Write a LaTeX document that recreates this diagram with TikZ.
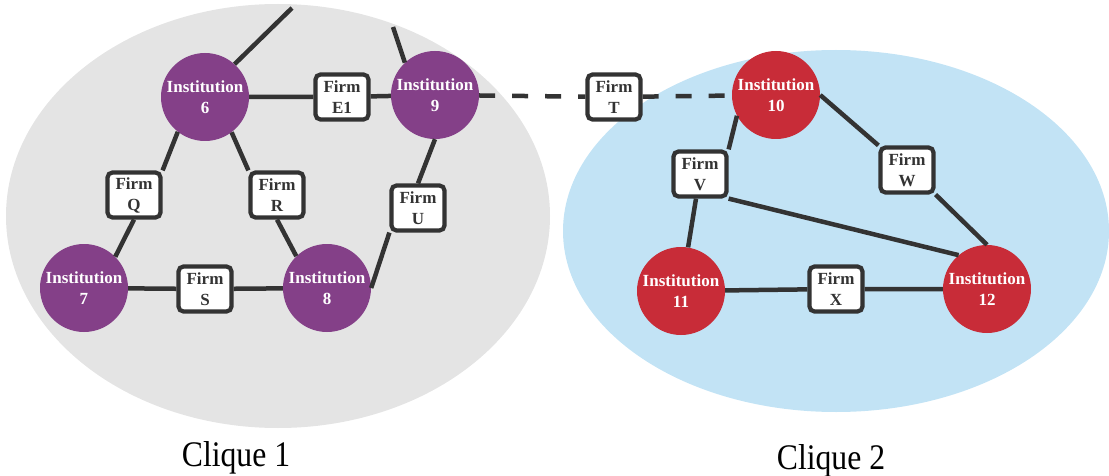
\documentclass[tikz,border=0pt]{standalone}
\usepackage{fontspec}
\setmainfont{Liberation Serif}
\usepackage{graphicx}
\usetikzlibrary{positioning}
\definecolor{instpurple}{HTML}{844088}
\definecolor{instred}{HTML}{C82C38}
\definecolor{cliquegray}{HTML}{E4E4E4}
\definecolor{cliqueblue}{HTML}{C2E3F5}
\definecolor{linkgray}{HTML}{333333}

\begin{document}
\begin{tikzpicture}[x=1pt, y=-1pt,
  inst/.style={circle, minimum size=88pt, inner sep=0pt, text=white, align=center, font=\fontsize{17}{21}\selectfont\bfseries},
  firm/.style={draw=linkgray, line width=4.2pt, fill=white, rounded corners=5pt, minimum width=53pt, minimum height=45pt, inner sep=0pt, align=center, text=linkgray, font=\fontsize{17}{21}\selectfont\bfseries},
  link/.style={draw=linkgray, line width=4.5pt},
  clique/.style={font=\fontsize{36}{36}\selectfont}]
\useasboundingbox (0,0) rectangle (1109,476);

% Define the cliques
\fill[cliquegray] (278,216) ellipse [x radius=272, y radius=212];
\fill[cliqueblue] (836,231) ellipse [x radius=273, y radius=181];
\node[clique] (cl1) at (236,458) {\scalebox{0.88}[1]{Clique 1}};
\node[clique] (cl2) at (831,461) {\scalebox{0.88}[1]{Clique 2}};

% Define the institutions
\node[inst, fill=instpurple] (i6) at (205,97) {Institution\\6};
\node[inst, fill=instpurple] (i9) at (435,95) {Institution\\9};
\node[inst, fill=instpurple] (i7) at (84,288) {Institution\\7};
\node[inst, fill=instpurple] (i8) at (327,288) {Institution\\8};
\node[inst, fill=instred] (i10) at (776,95) {Institution\\10};
\node[inst, fill=instred] (i11) at (681,291) {Institution\\11};
\node[inst, fill=instred] (i12) at (987,289) {Institution\\12};

% Define the firms
\node[firm] (fe1) at (342,97) {Firm\\E1};
\node[firm] (fq) at (134,195) {Firm\\Q};
\node[firm] (fr) at (277,195) {Firm\\R};
\node[firm] (fs) at (205,289) {Firm\\S};
\node[firm] (fu) at (418,208) {Firm\\U};
\node[firm] (ft) at (614,97) {Firm\\T};
\node[firm] (fv) at (700,174) {Firm\\V};
\node[firm] (fw) at (907,170) {Firm\\W};
\node[firm] (fx) at (836,289) {Firm\\X};

\coordinate (top6) at (292,8);
\coordinate (top9) at (393,27);

% Draw the links
\draw[link] (top6) -- (i6.48);
\draw[link] (top9) -- (i9.133);
\draw[link] (i6) -- (fe1) -- (i9);
\draw[link] (i6.232) -- (fq.north east);
\draw[link] (fq.south) -- (i7.45);
\draw[link] (i6.307) -- (fr.north west);
\draw[link] (fr.south) -- (i8.134);
\draw[link] (i7) -- (fs) -- (i8);
\draw[link] (i8.east) -- (fu.south west);
\draw[link] (fu.north) -- (i9.south);
\draw[link, dash pattern=on 16pt off 17pt] (i9) -- (ft) -- (i10);
\draw[link] (i10.208) -- (fv.north east);
\draw[link] (fv) -- (i11);
\draw[link] (fv.south east) -- (i12.130);
\draw[link] (i10.east) -- (fw.north west);
\draw[link] (fw.south east) -- (i12.north);
\draw[link] (i11) -- (fx) -- (i12);
\end{tikzpicture}
\end{document}
